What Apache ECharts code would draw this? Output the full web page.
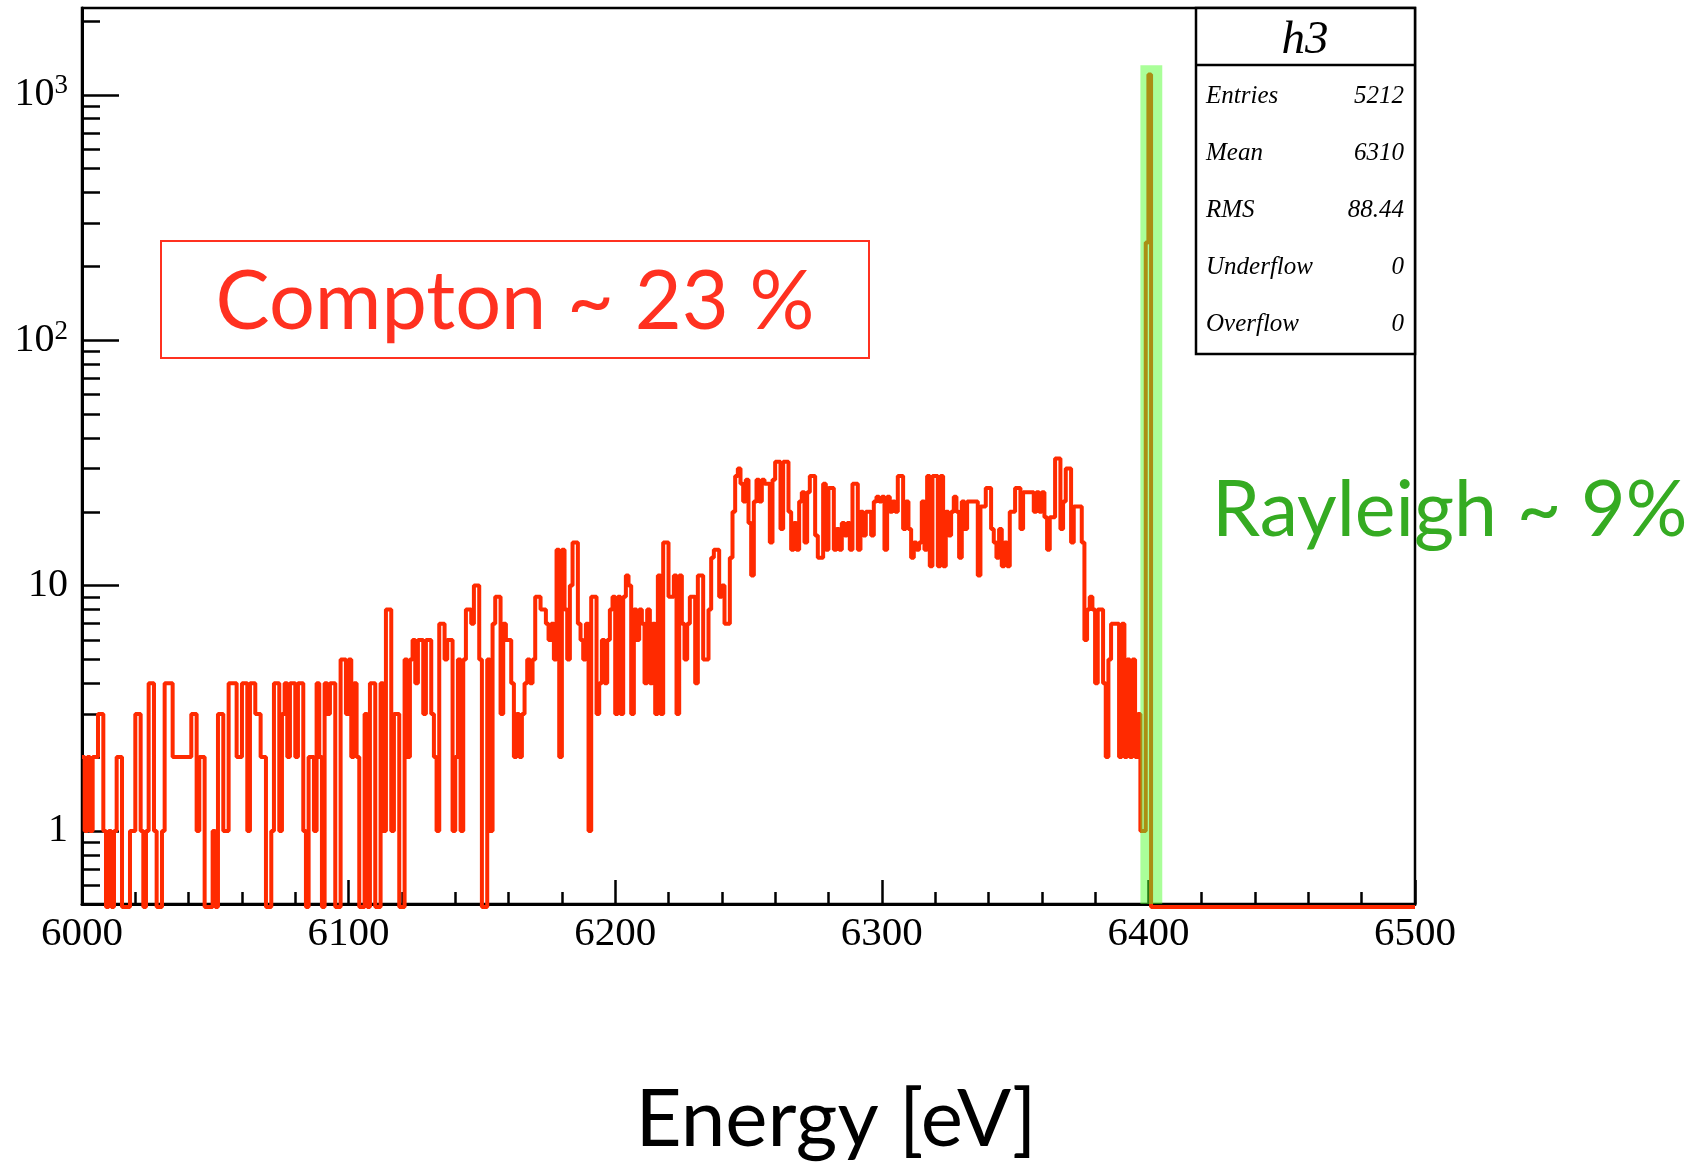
<!DOCTYPE html>
<html>
<head>
<meta charset="utf-8">
<title>h3</title>
<script src="https://cdn.jsdelivr.net/npm/echarts@6/dist/echarts.min.js"></script>
<style>
  html, body { margin: 0; padding: 0; background: #fff; }
  #chart { width: 1707px; height: 1167px; }
</style>
</head>
<body>
<div id="chart"></div>
<script>
// h3: 1 eV bins from 6000 to 6500 eV
const binStart = 6000
const binWidth = 1
const counts = [
  2, 1, 2, 1, 2, 2, 3, 3, 1, 0, 1, 0, 1, 2, 2, 0, 0, 0, 1, 1,
  3, 3, 1, 0, 1, 4, 4, 1, 0, 0, 1, 4, 4, 4, 2, 2, 2, 2, 2, 2,
  2, 3, 3, 1, 2, 2, 0, 0, 0, 1, 0, 3, 3, 1, 1, 4, 4, 4, 2, 2,
  4, 4, 1, 4, 4, 3, 3, 2, 2, 0, 0, 1, 4, 4, 1, 3, 4, 2, 4, 4,
  2, 4, 4, 1, 0, 2, 2, 1, 4, 2, 0, 4, 3, 4, 4, 0, 0, 5, 5, 3,
  5, 2, 4, 2, 0, 0, 3, 0, 4, 4, 0, 0, 4, 1, 8, 8, 1, 3, 3, 0,
  0, 5, 2, 5, 6, 4, 6, 6, 3, 6, 6, 3, 2, 1, 7, 7, 5, 6, 6, 1,
  2, 5, 1, 5, 8, 8, 7, 10, 10, 5, 0, 0, 5, 1, 7, 9, 9, 3, 7, 6,
  6, 4, 2, 3, 2, 3, 4, 5, 4, 5, 9, 9, 8, 8, 7, 6, 7, 5, 14, 2,
  14, 8, 5, 10, 15, 15, 7, 6, 5, 7, 1, 9, 9, 3, 4, 6, 4, 6, 8, 9,
  3, 9, 3, 9, 11, 10, 3, 8, 6, 8, 7, 4, 8, 4, 7, 3, 11, 3, 15, 15,
  9, 9, 11, 3, 11, 7, 5, 7, 9, 9, 4, 11, 11, 5, 5, 8, 13, 14, 14, 9,
  10, 7, 7, 13, 20, 28, 30, 26, 22, 27, 18, 11, 22, 27, 22, 27, 26, 26, 15, 27,
  32, 32, 17, 32, 32, 20, 14, 18, 14, 22, 24, 15, 24, 28, 28, 16, 13, 13, 26, 14,
  25, 25, 14, 17, 14, 18, 16, 18, 14, 26, 26, 14, 20, 16, 20, 20, 16, 22, 23, 22,
  23, 14, 23, 20, 22, 20, 28, 28, 17, 22, 17, 13, 15, 14, 15, 22, 14, 28, 12, 28,
  28, 12, 28, 12, 20, 16, 20, 23, 20, 13, 22, 17, 22, 22, 22, 22, 11, 21, 21, 25,
  25, 17, 15, 13, 17, 12, 15, 12, 20, 20, 25, 25, 17, 24, 24, 24, 24, 20, 24, 20,
  24, 19, 14, 19, 19, 33, 33, 17, 22, 30, 30, 15, 21, 21, 21, 15, 6, 8, 9, 8,
  4, 8, 8, 4, 2, 5, 7, 7, 7, 2, 7, 2, 5, 2, 5, 2, 3, 1, 1, 250,
  1210, 0, 0, 0, 0, 0, 0, 0, 0, 0, 0, 0, 0, 0, 0, 0, 0, 0, 0, 0,
  0, 0, 0, 0, 0, 0, 0, 0, 0, 0, 0, 0, 0, 0, 0, 0, 0, 0, 0, 0,
  0, 0, 0, 0, 0, 0, 0, 0, 0, 0, 0, 0, 0, 0, 0, 0, 0, 0, 0, 0,
  0, 0, 0, 0, 0, 0, 0, 0, 0, 0, 0, 0, 0, 0, 0, 0, 0, 0, 0, 0,
  0, 0, 0, 0, 0, 0, 0, 0, 0, 0, 0, 0, 0, 0, 0, 0, 0, 0, 0, 0
]

// axes
const xMin = 6000
const xMax = 6500
const yMin = 0.504
const yMax = 2260
const yMajorTicks = [1, 10, 100, 1000]
// [mantissa, exponent] for the decade labels
const yTickLabels = [['1', ''], ['10', ''], ['10', '2'], ['10', '3']]
const yMinorTicks = [0.6, 0.7, 0.8, 0.9, 2, 3, 4, 5, 6, 7, 8, 9,
  20, 30, 40, 50, 60, 70, 80, 90, 200, 300, 400, 500, 600, 700, 800, 900, 2000]

// highlighted Rayleigh region [from, to, top]
const rayleighBand = [6397, 6405.2, 1320]

// stat box
const statTitle = 'h3'
const statLabels = ['Entries', 'Mean', 'RMS', 'Underflow', 'Overflow']
const statValues = ['5212', '6310', '88.44', '0', '0']

const comptonText = 'Compton ~ 23 %'
const rayleighText = 'Rayleigh ~ 9%'
const xTitle = 'Energy [eV]'

// empty bins can't go on a log axis, park them just under the frame
const floor = 0.49
const histData = counts.map((c, i) => [binStart + i * binWidth, c > 0 ? c : floor])
histData.push([binStart + counts.length * binWidth, counts[counts.length - 1] > 0 ? counts[counts.length - 1] : floor])

const serif = 'Liberation Serif'
const sans = 'Lato'

const statGraphics = [
  {
    type: 'rect',
    shape: { x: 1196, y: 8, width: 219, height: 346 },
    style: { fill: '#fff', stroke: '#000', lineWidth: 2.5 },
    z: 100
  },
  {
    type: 'line',
    shape: { x1: 1196, y1: 65, x2: 1415, y2: 65 },
    style: { stroke: '#000', lineWidth: 2.5 },
    z: 101
  },
  {
    type: 'text',
    x: 1305, y: 41,
    style: { text: statTitle, fontFamily: serif, fontStyle: 'italic', fontSize: 47, fill: '#000', align: 'center', verticalAlign: 'middle' },
    z: 101
  }
]
statLabels.forEach((label, i) => {
  const y = 96 + i * 57
  statGraphics.push({
    type: 'text', x: 1206, y: y,
    style: { text: label, fontFamily: serif, fontStyle: 'italic', fontSize: 25, fill: '#000', align: 'left', verticalAlign: 'middle' },
    z: 101
  })
  statGraphics.push({
    type: 'text', x: 1404, y: y,
    style: { text: statValues[i], fontFamily: serif, fontStyle: 'italic', fontSize: 25, fill: '#000', align: 'right', verticalAlign: 'middle' },
    z: 101
  })
})

const chart = echarts.init(document.getElementById('chart'))

chart.setOption({
  animation: false,
  backgroundColor: '#fff',
  grid: {
    left: 82,
    right: 292,
    top: 8,
    bottom: 263,
    show: true,
    borderColor: '#000',
    borderWidth: 2.5,
    backgroundColor: 'transparent'
  },
  xAxis: {
    type: 'value',
    min: xMin,
    max: xMax,
    interval: 100,
    axisLine: { lineStyle: { color: '#000', width: 3 } },
    axisTick: { inside: true, length: 24, lineStyle: { color: '#000', width: 2.5 } },
    minorTick: { show: true, splitNumber: 5, length: 12, lineStyle: { color: '#000', width: 2.5 } },
    splitLine: { show: false },
    axisLabel: {
      fontFamily: serif,
      fontSize: 41,
      color: '#000',
      margin: 10,
      formatter: v => String(v)
    }
  },
  yAxis: [
    {
      type: 'log',
      logBase: 10,
      min: yMin,
      max: yMax,
      axisLine: { show: true, lineStyle: { color: '#000', width: 3 } },
      axisTick: { customValues: yMajorTicks, inside: true, length: 37, lineStyle: { color: '#000', width: 2.5 } },
      splitLine: { show: false },
      minorTick: { show: false },
      axisLabel: {
        customValues: yMajorTicks,
        fontFamily: serif,
        fontSize: 40,
        color: '#000',
        margin: 14,
        formatter: v => {
          const i = yMajorTicks.indexOf(v)
          if (i < 0) return ''
          const [m, e] = yTickLabels[i]
          return e ? '{m|' + m + '}{e|' + e + '}' : '{m|' + m + '}'
        },
        rich: {
          m: { fontFamily: serif, fontSize: 40, lineHeight: 44, color: '#000' },
          e: { fontFamily: serif, fontSize: 27, lineHeight: 27, verticalAlign: 'top', color: '#000' }
        }
      }
    },
    {
      type: 'log',
      logBase: 10,
      min: yMin,
      max: yMax,
      position: 'left',
      axisLine: { show: false },
      axisTick: { customValues: yMinorTicks, inside: true, length: 18, lineStyle: { color: '#000', width: 2.5 } },
      axisLabel: { show: false },
      splitLine: { show: false }
    }
  ],
  series: [
    {
      name: 'h3',
      type: 'line',
      step: 'end',
      data: histData,
      yAxisIndex: 0,
      showSymbol: false,
      symbol: 'none',
      clip: false,
      lineStyle: { color: '#ff2a00', width: 4 },
      z: 3
    },
    {
      name: 'Rayleigh',
      type: 'line',
      data: [],
      yAxisIndex: 0,
      z: 10,
      markArea: {
        silent: true,
        z: 20,
        itemStyle: { color: 'rgba(78, 255, 42, 0.48)' },
        data: [[
          { xAxis: rayleighBand[0], yAxis: yMin },
          { xAxis: rayleighBand[1], yAxis: rayleighBand[2] }
        ]]
      }
    }
  ],
  graphic: [
    {
      type: 'rect',
      shape: { x: 161, y: 241, width: 708, height: 117 },
      style: { fill: 'none', stroke: '#ff3120', lineWidth: 2 },
      z: 50
    },
    {
      type: 'text',
      x: 515, y: 303,
      style: { text: comptonText, fontFamily: sans, fontSize: 81, fill: '#ff3120', align: 'center', verticalAlign: 'middle' },
      z: 50
    },
    {
      type: 'text',
      x: 1212, y: 511,
      style: { text: rayleighText, fontFamily: sans, fontSize: 77, fill: '#35ab22', align: 'left', verticalAlign: 'middle' },
      z: 50
    },
    {
      type: 'text',
      x: 836, y: 1120,
      style: { text: xTitle, fontFamily: sans, fontSize: 80, fill: '#000', align: 'center', verticalAlign: 'middle' },
      z: 50
    }
  ].concat(statGraphics)
})
</script>
</body>
</html>
